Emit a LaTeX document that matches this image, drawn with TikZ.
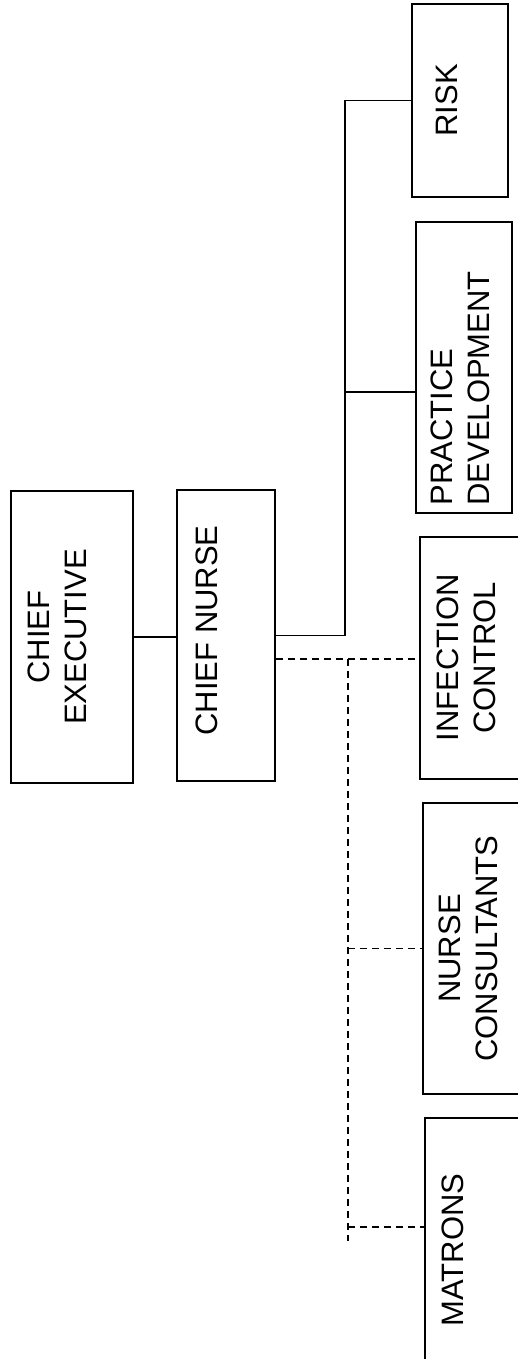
\documentclass[tikz,border=0pt]{standalone}
\usepackage{fontspec}
\setmainfont{Liberation Sans}
\usepackage{graphicx}
% Label set reading upwards.
% #1 right padding (moves the text left), #2 vertical shift, #3 column alignment, #4 text
\newcommand{\uplabel}[4]{\raisebox{#2}[\height][\depth]{\rotatebox{90}{\begin{tabular}{@{}#3@{}}#4\end{tabular}}}\hspace*{#1}}
\begin{document}
\begin{tikzpicture}[x=1pt,y=-1pt,
  orgbox/.style={draw=black, line width=2pt, rectangle, inner sep=0pt,
    font=\fontsize{31}{37}\selectfont},
  solidlink/.style={draw=black, line width=1.8pt},
  dashlink/.style={draw=black, line width=1.8pt, dash pattern=on 7pt off 5pt}]

\fill[white] (0,0) rectangle (517,1359);
\useasboundingbox (0,0) rectangle (517,1359);

% Top of the hierarchy
\node[orgbox, minimum width=122pt, minimum height=292pt] (ce) at (71.5,637)
  {\uplabel{21pt}{0pt}{c}{CHIEF\\EXECUTIVE}};
\node[orgbox, minimum width=98pt, minimum height=291pt] (cn) at (226,635.5)
  {\uplabel{31pt}{5pt}{c}{CHIEF NURSE}};

% Line-managed departments
\node[orgbox, minimum width=96pt, minimum height=193pt] (risk) at (460,100.5)
  {\uplabel{19pt}{0pt}{c}{RISK}};
\node[orgbox, minimum width=96pt, minimum height=291pt] (pd) at (464,367.5)
  {\uplabel{0pt}{-21pt}{l}{PRACTICE\\DEVELOPMENT}};

% Professionally accountable groups (boxes run off the right edge)
\node[orgbox, minimum width=100pt, minimum height=242pt] (ic) at (470,658)
  {\uplabel{0pt}{0pt}{c}{INFECTION\\CONTROL}};
\node[orgbox, minimum width=97pt, minimum height=291pt] (nc) at (471.5,948.5)
  {\uplabel{0pt}{0pt}{c}{NURSE\\CONSULTANTS}};
\node[orgbox, minimum width=96pt, minimum height=264pt] (mat) at (473,1250)
  {\uplabel{33pt}{0pt}{c}{MATRONS}};

% Junction points
\coordinate (spine) at (345,0);
\coordinate (pdtap) at (345,392);
\coordinate (dtap) at (348,659);
\coordinate (dend) at (348,1241);
\coordinate (mtap) at (348,1227);

% Solid reporting lines
\draw[solidlink] (ce.east) -- (ce.east -| cn.west);
\draw[solidlink] (cn.east) -| (spine |- risk.west) -- (risk.west);
\draw[solidlink] (pdtap) -- (pdtap -| pd.west);

% Dashed accountability lines
\draw[dashlink] (cn.east |- dtap) -- (dtap -| ic.west);
\draw[dashlink] (dtap) -- (dend);
\draw[dashlink] (dend |- nc.west) -- (nc.west);
\draw[dashlink] (mtap) -- (mtap -| mat.west);
\end{tikzpicture}
\end{document}
